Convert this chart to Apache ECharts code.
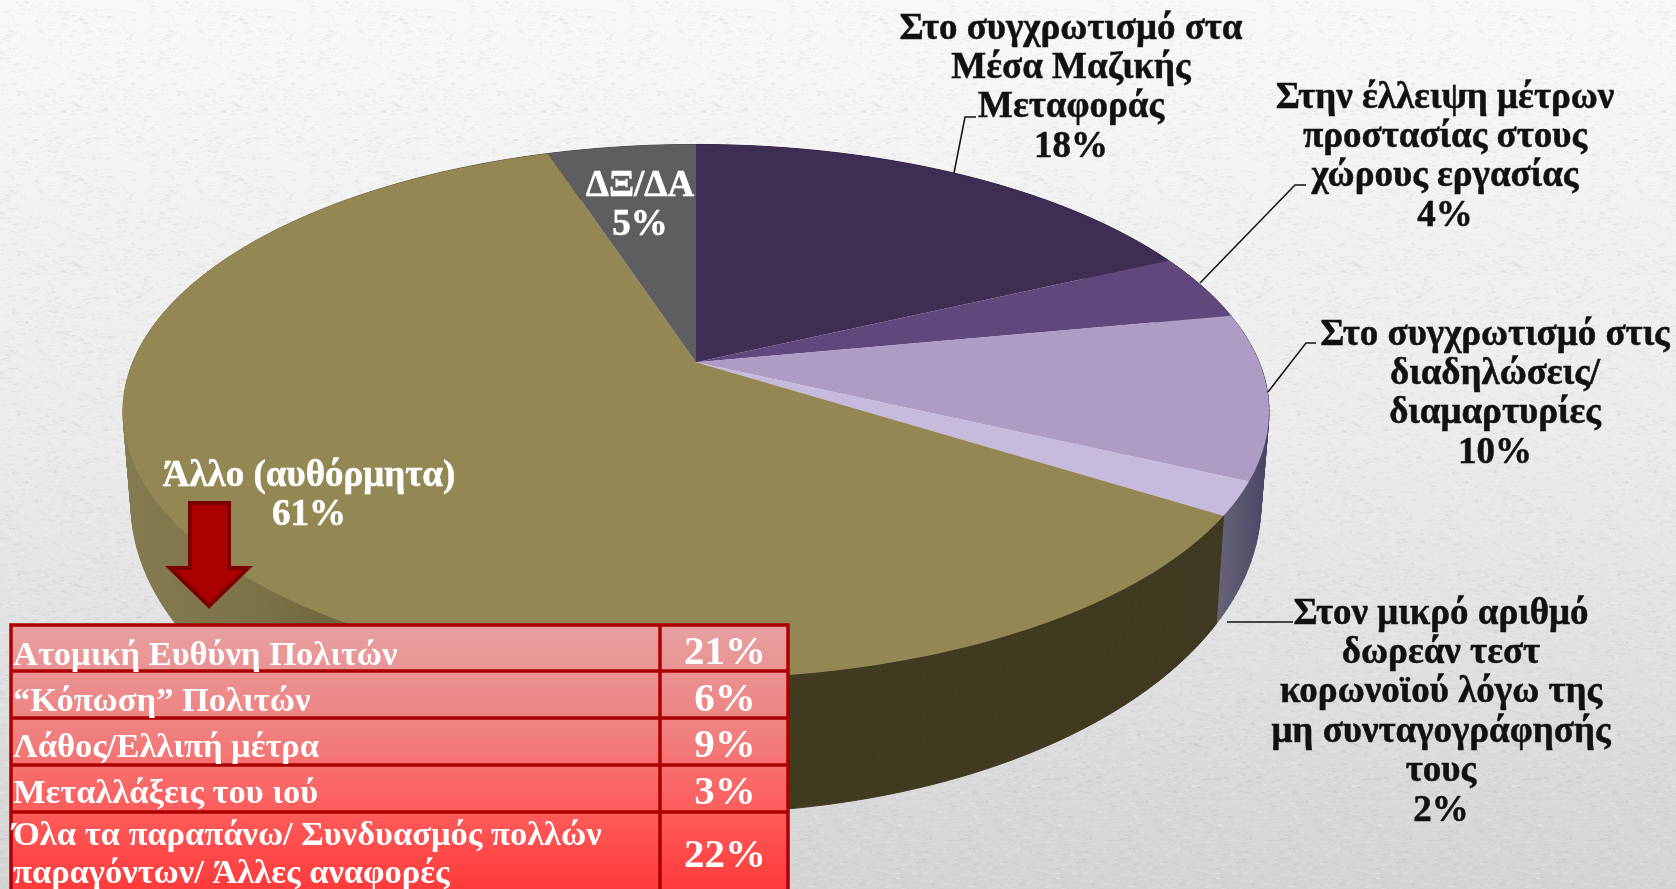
<!DOCTYPE html>
<html><head><meta charset="utf-8">
<style>html,body{margin:0;padding:0;background:#eee}#c{width:1676px;height:889px}</style>
<script src="https://cdn.jsdelivr.net/npm/echarts@6/dist/echarts.min.js"></script>
</head><body><div id="c"></div>
<script>
// ---- data ----
const sliceNames = [
  'Στο συγχρωτισμό στα\nΜέσα Μαζικής\nΜεταφοράς',
  'Στην έλλειψη μέτρων\nπροστασίας στους\nχώρους εργασίας',
  'Στο συγχρωτισμό στις\nδιαδηλώσεις/\nδιαμαρτυρίες',
  'Στον μικρό αριθμό\nδωρεάν τεστ\nκορωνοϊού λόγω της\nμη συνταγογράφησής\nτους',
  'Άλλο (αυθόρμητα)',
  'ΔΞ/ΔΑ'
];
const sliceValues = [18, 4, 10, 2, 61, 5];
const tableRows = [
  'Ατομική Ευθύνη Πολιτών',
  '“Κόπωση” Πολιτών',
  'Λάθος/Ελλιπή μέτρα',
  'Μεταλλάξεις του ιού',
  'Όλα τα παραπάνω/ Συνδυασμός πολλών\nπαραγόντων/ Άλλες αναφορές'
];
const tableValues = [21, 6, 9, 3, 22];

// ---- appearance ----
const topColors = ['#3f2e54', '#60487c', '#ae9cc4', '#c6bbdc', '#938854', '#5e5e60'];
const slateWall = {type:'linear', x:1212, y:0, x2:1266, y2:0, global:true, colorStops:[
  {offset:0, color:'#6a6778'},{offset:.5, color:'#5a5870'},{offset:1, color:'#474564'}]};
const khakiWall = {type:'linear', x:125, y:0, x2:1230, y2:0, global:true, colorStops:[
  {offset:0, color:'#857b50'},{offset:.12, color:'#7c7249'},{offset:.22, color:'#6a6139'},
  {offset:.45, color:'#423c20'},{offset:1, color:'#3e3920'}]};
const wallColors = ['#2c2140', '#3d3058', slateWall, slateWall, khakiWall, '#444446'];
const labelFont = 'bold 37px "Liberation Serif"';
const labelPlaces = [
  {x:1071, y:29,  fill:'#111', leader:[[954,173],[965,117],[976,117]]},
  {x:1445, y:98,  fill:'#111', leader:[[1200,283],[1295,185],[1306,185]]},
  {x:1495, y:335, fill:'#111', leader:[[1268,392],[1306,343],[1316,343]]},
  {x:1441, y:614, fill:'#111', leader:[[1227,622],[1293,622]]},
  {x:309,  y:476, fill:'#fff', leader:null},
  {x:640,  y:186, fill:'#fff', leader:null}
];
const LINE = 39.4;
// perspective disc: top rim and bottom rim
const P = 0.184;
const rimTop = {cx:696, cy:411.5, rx:573, ry:267};
const rimBot = {cx:696, cy:503, rx:565, ry:310};
function rimPoint(rim, deg) {
  const t = deg * Math.PI / 180, x = Math.sin(t), y = -Math.cos(t);
  const d = 1 - P * y;
  return [rim.cx + rim.rx * Math.sqrt(1 - P*P) * x / d,
          rim.cy - P * rim.ry + rim.ry * (1 - P*P) * y / d];
}
const total = sliceValues.reduce((a, b) => a + b, 0);
function sliceRange(i) {
  let s = 0;
  for (let k = 0; k < i; k++) s += sliceValues[k];
  return [s / total * 360, (s + sliceValues[i]) / total * 360];
}
function arc(rim, a, b) {
  const out = [], n = Math.max(2, Math.ceil(Math.abs(b - a)));
  for (let k = 0; k <= n; k++) out.push(rimPoint(rim, a + (b - a) * k / n));
  return out;
}
const ids = sliceValues.map((v, i) => [i, v]);

function renderWall(params, api) {
  const i = api.value(0), [a, b] = sliceRange(i);
  const t = arc(rimTop, a, b), u = arc(rimBot, a, b), kids = [];
  for (let k = 0; k + 1 < t.length; k++) {
    kids.push({type:'polygon', shape:{points:[t[k], t[k+1], u[k+1], u[k]].map(p => api.coord(p))},
      style:{fill:wallColors[i], stroke:wallColors[i], lineWidth:1}});
  }
  return {type:'group', children:kids};
}
function renderTop(params, api) {
  const i = api.value(0), [a, b] = sliceRange(i);
  const apex = [rimTop.cx, rimTop.cy - P * rimTop.ry];
  const pts = [apex].concat(arc(rimTop, a, b)).map(p => api.coord(p));
  return {type:'polygon', shape:{points:pts}, style:{fill: topColors[i]}};
}
function renderLabel(params, api) {
  const i = api.value(0), pl = labelPlaces[i], kids = [];
  if (pl.leader) kids.push({type:'polyline', shape:{points:pl.leader.map(p => api.coord(p))},
    style:{stroke:'#111', lineWidth:1.5, fill:'none'}});
  const [x, y] = api.coord([pl.x, pl.y]);
  (sliceNames[i] + '\n' + api.value(1) + '%').split('\n').forEach((t, k) => {
    kids.push({type:'text', x:x, y:y + k * LINE, style:{text:t, font:labelFont, fill:pl.fill,
      stroke:pl.fill, lineWidth:.5, align:'center', verticalAlign:'middle'}});
  });
  return {type:'group', children:kids};
}

// ---- paper texture (fixed hash, purely decorative) ----
function makeTile() {
  const c = document.createElement('canvas'); c.width = c.height = 160;
  const g = c.getContext('2d');
  const h = n => { const s = Math.sin(n * 12.9898) * 43758.5453; return s - Math.floor(s); };
  for (let n = 0; n < 1500; n++) {
    const light = h(n + .5) > .5;
    g.fillStyle = light ? 'rgba(255,255,255,.12)' : 'rgba(120,120,120,.05)';
    g.fillRect(Math.floor(h(n + .1) * 160), Math.floor(h(n + .2) * 160), 2 + Math.floor(h(n + .3) * 5), 1 + Math.floor(h(n + .4) * 2));
  }
  return c;
}

// ---- table ----
const T = {l:11, r:788, div:660, lines:[625,671,718,765,812,895]};
const tableFill = {type:'linear', x:0, y:625, x2:0, y2:889, global:true, colorStops:[
  {offset:0, color:'#e6a0a0'},{offset:.4, color:'#f08080'},{offset:.72, color:'#ff5a5a'},{offset:1, color:'#ff3a3a'}]};
const rowTextY = [[656],[702],[748],[794],[836,874]];
const pctY = [653,700,746,793,856];
const graphicEls = [{type:'rect', z:-1, shape:{x:0,y:0,width:1676,height:889}, silent:true,
  style:{fill:{image:makeTile(), repeat:'repeat'}}}];
graphicEls.push({type:'rect', z:50, shape:{x:T.l,y:T.lines[0],width:T.r-T.l,height:T.lines[5]-T.lines[0]},
  style:{fill:tableFill, stroke:'#ab0000', lineWidth:3.5}});
T.lines.slice(1,5).forEach(y => graphicEls.push({type:'line', z:51, shape:{x1:T.l,y1:y,x2:T.r,y2:y}, style:{stroke:'#ab0000', lineWidth:3.5}}));
graphicEls.push({type:'line', z:51, shape:{x1:T.div,y1:T.lines[0],x2:T.div,y2:T.lines[5]}, style:{stroke:'#ab0000', lineWidth:3.5}});
tableRows.forEach((r, i) => {
  r.split('\n').forEach((t, k) => graphicEls.push({type:'text', z:52, x:13, y:rowTextY[i][k],
    style:{text:t, font:'bold 34.5px "Liberation Serif"', fill:'#fff', verticalAlign:'middle', align:'left'}}));
  graphicEls.push({type:'text', z:52, x:725, y:pctY[i],
    style:{text:tableValues[i] + '%', font:'bold 41px "Liberation Serif"', fill:'#fff', verticalAlign:'middle', align:'center'}});
});
// arrow
graphicEls.push({type:'polygon', z:49, shape:{points:[[190,503],[229,503],[229,568],[248,568],[209,606],[170,568],[190,568]]},
  style:{fill:'#ab0000', stroke:'#7a0000', lineWidth:4, lineJoin:'miter'}});

const chart = echarts.init(document.getElementById('c'), null, {renderer:'canvas'});
chart.setOption({
  animation:false,
  backgroundColor:{type:'linear', x:0, y:0, x2:0, y2:1, colorStops:[
    {offset:0, color:'#f8f8f8'},{offset:.5, color:'#ebebeb'},{offset:1, color:'#d4d4d4'}]},
  tooltip:{show:false},
  grid:{left:0, right:0, top:0, bottom:0},
  xAxis:{type:'value', min:0, max:1676, show:false},
  yAxis:{type:'value', min:0, max:889, inverse:true, show:false},
  series:[
    {type:'custom', name:'walls', z:2, silent:true, clip:false, renderItem:renderWall, data:ids},
    {type:'custom', name:'tops', z:3, silent:true, clip:false, renderItem:renderTop, data:ids},
    {type:'custom', name:'labels', z:4, silent:true, clip:false, renderItem:renderLabel, data:ids}
  ],
  graphic:{elements:graphicEls}
});
</script></body></html>
